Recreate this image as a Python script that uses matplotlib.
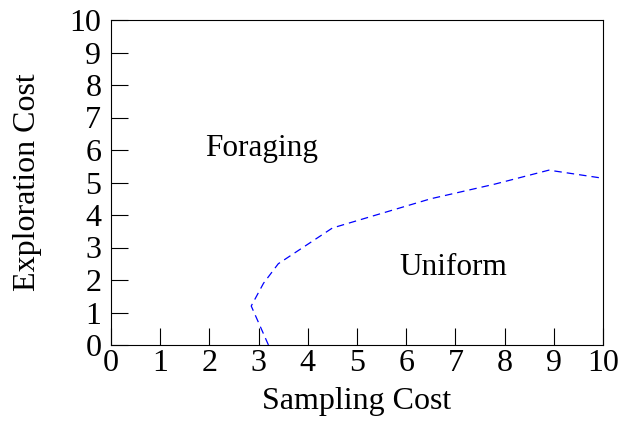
import matplotlib
matplotlib.use("Agg")
import matplotlib.pyplot as plt

plt.rcParams['font.family'] = ['Liberation Serif', 'DejaVu Serif']

# boundary between the two regimes
sampling = [3.2, 2.85, 3.1, 3.4, 4.5, 5.5, 6.5, 7.8, 8.9, 10.0]
exploration = [0.0, 1.2, 1.9, 2.5, 3.6, 4.05, 4.5, 4.95, 5.38, 5.13]

fig = plt.figure(figsize=(6.21, 4.43), dpi=100)
ax = fig.add_axes([111/621, 1 - 345/443, 492/621, 325/443])

ax.plot(sampling, exploration, color='blue', linestyle=(0, (6, 4)), linewidth=0.9)

ax.text(3.07, 6.06, 'Foraging', fontsize=22.5, ha='center', va='center')
ax.text(6.95, 2.37, 'Uniform', fontsize=22.5, ha='center', va='center')

ax.set_xlim(0, 10)
ax.set_ylim(0, 10)
ax.set_xticks(range(11))
ax.set_yticks(range(11))
ax.tick_params(direction='in', length=12, labelsize=23)
ax.tick_params(axis='x', pad=3)
ax.tick_params(axis='y', pad=7)
ax.set_xlabel('Sampling Cost', fontsize=23, labelpad=6)
ax.set_ylabel('Exploration Cost', fontsize=23, labelpad=20)

fig.savefig('out.png', dpi=100)
